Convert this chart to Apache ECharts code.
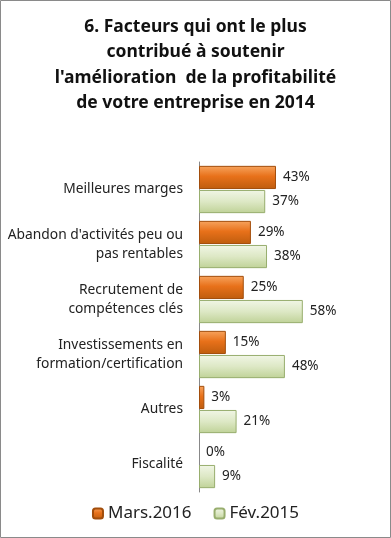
<!DOCTYPE html>
<html><head><meta charset="utf-8">
<script src="https://cdn.jsdelivr.net/npm/echarts@6/dist/echarts.min.js"></script>
<style>html,body{margin:0;padding:0;background:#fff}#c{width:391px;height:538px}</style>
</head><body><div id="c"></div>
<script>
const categories = ["Meilleures marges", "Abandon d'activités peu ou\npas rentables", "Recrutement de\ncompétences clés", "Investissements en\nformation/certification", "Autres", "Fiscalité"];
const mars2016 = [43, 29, 25, 15, 3, 0];
const fev2015 = [37, 38, 58, 48, 21, 9];
const seriesNames = ["Mars.2016", "Fév.2015"];
const titleText = "6. Facteurs qui ont le plus\ncontribué à soutenir\nl'amélioration  de la profitabilité\nde votre entreprise en 2014";

const font = "'Noto Sans', 'Open Sans', sans-serif";
const chart = echarts.init(document.getElementById('c'));
const orange = new echarts.graphic.LinearGradient(0,0,0,1,[{offset:0,color:'#F7A45E'},{offset:0.45,color:'#E8711A'},{offset:1,color:'#BE5C0E'}]);
const green = new echarts.graphic.LinearGradient(0,0,0,1,[{offset:0,color:'#F1F6E6'},{offset:0.5,color:'#DDE8C5'},{offset:1,color:'#BFD297'}]);
const lbl = {show:true, position:'right', distance:7, formatter:'{c}%', color:'#222', fontSize:13.5, fontFamily:font};
const noBorderZero = arr => arr.map(v => v === 0 ? {value:v, itemStyle:{borderWidth:0}} : v);
chart.setOption({
  animation:false,
  title:{text:titleText, left:'center', top:9, textStyle:{fontSize:17.5, fontWeight:'bold', color:'#111', fontFamily:font, lineHeight:25.5}},
  legend:{bottom:11, left:'center', itemWidth:10, itemHeight:10, itemGap:22, textStyle:{fontSize:17, color:'#222', fontFamily:font}, data:seriesNames},
  grid:{left:199, right:13, top:162, bottom:46},
  xAxis:{type:'value', min:0, max:100, show:false},
  yAxis:{type:'category', inverse:true, data:categories, axisTick:{show:false}, axisLine:{lineStyle:{color:'#888'}}, axisLabel:{margin:16, color:'#222', fontSize:13.8, fontFamily:font, lineHeight:19, align:'right'}},
  series:[
    {name:seriesNames[0], type:'bar', data:noBorderZero(mars2016), barCategoryGap:'14%', barGap:'4%', itemStyle:{color:orange, borderColor:'#A24D0B', borderWidth:1}, label:lbl},
    {name:seriesNames[1], type:'bar', data:noBorderZero(fev2015), itemStyle:{color:green, borderColor:'#98AE6E', borderWidth:1}, label:lbl}
  ],
  graphic:[{type:'rect', shape:{x:0.5,y:0.5,width:390,height:537}, style:{fill:null, stroke:'#8a8a8a', lineWidth:1}, silent:true}]
});
</script></body></html>
